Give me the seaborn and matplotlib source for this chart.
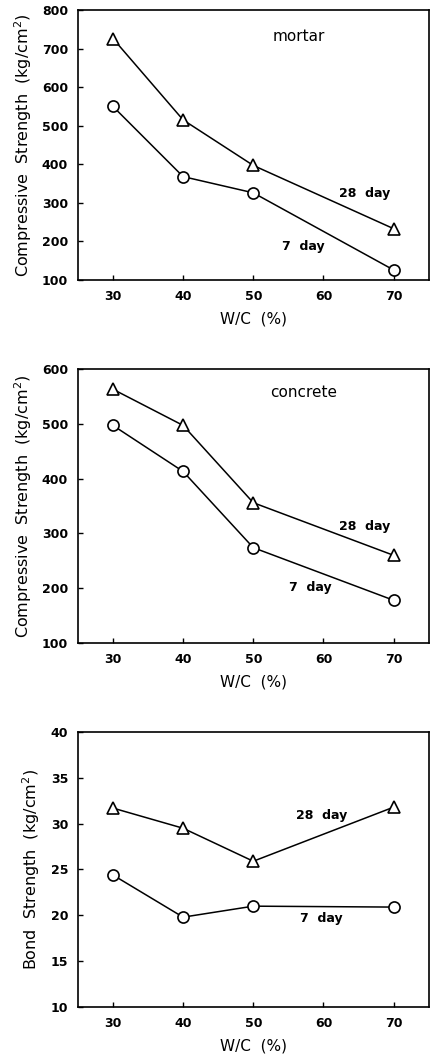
import numpy as np
import pandas as pd
import matplotlib
matplotlib.use("Agg")
import matplotlib.pyplot as plt
import seaborn as sns

sns.set_style("ticks")
plt.rcParams['font.family'] = ['DejaVu Sans']
plt.rcParams['xtick.direction'] = 'in'
plt.rcParams['ytick.direction'] = 'in'
for key in ['text.color', 'axes.labelcolor', 'xtick.color', 'ytick.color', 'axes.edgecolor']:
    plt.rcParams[key] = 'black'

# W/C ratio (%)
wc = [30, 40, 50, 70]

# compressive strength, mortar (kg/cm2)
mortar_7 = [550, 368, 326, 126]
mortar_28 = [726, 515, 397, 233]

# compressive strength, concrete (kg/cm2)
concrete_7 = [497, 413, 274, 178]
concrete_28 = [563, 497, 356, 260]

# bond strength (kg/cm2)
bond_7 = [24.4, 19.8, 21.0, 20.9]
bond_28 = [31.7, 29.5, 25.9, 31.8]

x_ticks = [30, 40, 50, 60, 70]

panels = [
    dict(s7=mortar_7, s28=mortar_28, ylim=(100, 800), yticks=range(100, 801, 100),
         ylabel="Compressive  Strength  (kg/cm$^2$)", name="mortar",
         name_xy=(56.5, 732), l28=(65.8, 325), l7=(57.2, 188)),
    dict(s7=concrete_7, s28=concrete_28, ylim=(100, 600), yticks=range(100, 601, 100),
         ylabel="Compressive  Strength  (kg/cm$^2$)", name="concrete",
         name_xy=(57.2, 557), l28=(65.9, 312), l7=(58.1, 202)),
    dict(s7=bond_7, s28=bond_28, ylim=(10, 40), yticks=range(10, 41, 5),
         ylabel="Bond  Strength  (kg/cm$^2$)", name=None,
         name_xy=None, l28=(59.8, 30.9), l7=(59.7, 19.7)),
]

fig = plt.figure(figsize=(4.30, 10.59), dpi=100)
boxes = [(0.181, 0.7356, 0.816, 0.255),
         (0.181, 0.3928, 0.816, 0.2588),
         (0.181, 0.0491, 0.816, 0.2597)]

for p, box in zip(panels, boxes):
    ax = fig.add_axes(box)
    df = pd.DataFrame({
        "wc": wc * 2,
        "val": list(p["s7"]) + list(p["s28"]),
        "age": ["7 day"] * 4 + ["28 day"] * 4,
    })
    sns.lineplot(data=df, x="wc", y="val", hue="age", style="age",
                 palette={"7 day": "black", "28 day": "black"},
                 markers={"7 day": "o", "28 day": "^"}, dashes=False,
                 markersize=8, markerfacecolor="white", markeredgecolor="black",
                 markeredgewidth=1.2, linewidth=1.1, legend=False, ax=ax)
    ax.set_xlim(25, 75)
    ax.set_ylim(*p["ylim"])
    ax.set_xticks(x_ticks)
    ax.set_yticks(list(p["yticks"]))
    ax.tick_params(axis="both", length=3.5, width=1, labelsize=9, pad=7)
    for lab in ax.get_xticklabels() + ax.get_yticklabels():
        lab.set_fontweight("bold")
    ax.set_xlabel("W/C  (%)", fontsize=11, labelpad=6)
    ax.set_ylabel(p["ylabel"], fontsize=11.5, labelpad=6)
    for sp in ax.spines.values():
        sp.set_visible(True)
        sp.set_linewidth(1.2)
    if p["name"]:
        ax.text(*p["name_xy"], p["name"], fontsize=11, ha="center", va="center")
    ax.text(*p["l28"], "28  day", fontsize=9, fontweight="bold", ha="center", va="center")
    ax.text(*p["l7"], "7  day", fontsize=9, fontweight="bold", ha="center", va="center")

fig.savefig("out.png", dpi=100)
